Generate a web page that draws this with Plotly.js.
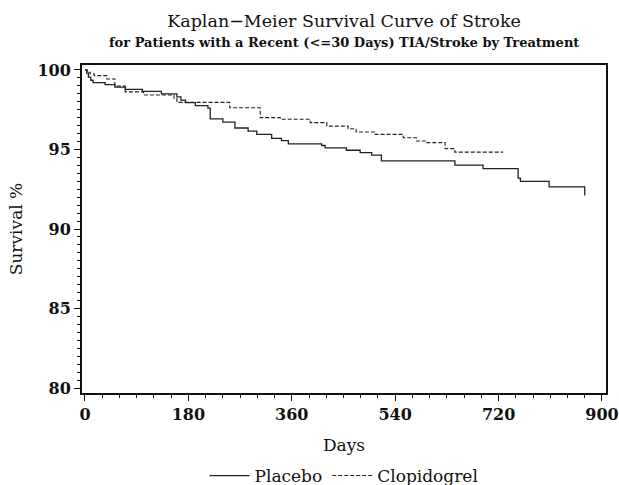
<!DOCTYPE html>
<html>
<head>
<meta charset="utf-8">
<script src="https://cdn.plot.ly/plotly-3.0.1.min.js"></script>
<style>html,body{margin:0;padding:0;background:#fff;}#chart{width:619px;height:485px;}</style>
</head>
<body>
<div id="chart"></div>
<script>
// Kaplan-Meier step data (day of change, survival % after the change)
const placeboDays = [0, 3, 6, 10, 14, 35, 52, 70, 100, 133, 160, 167, 175, 192, 214, 218, 240, 261, 284, 299, 325, 342, 354, 412, 418, 455, 479, 499, 516, 644, 693, 754, 758, 808, 870, 871];
const placeboSurv = [100, 99.8, 99.55, 99.35, 99.2, 99.07, 98.92, 98.78, 98.65, 98.5, 98.3, 98.1, 97.95, 97.75, 97.6, 96.92, 96.72, 96.35, 96.15, 95.95, 95.7, 95.55, 95.35, 95.25, 95.1, 94.95, 94.8, 94.65, 94.28, 94.02, 93.8, 93.2, 93.0, 92.65, 92.15, 92.15];
const clopDays = [0, 4, 9, 16, 38, 52, 70, 102, 155, 160, 252, 305, 340, 392, 421, 458, 472, 505, 554, 577, 595, 627, 644, 728];
const clopSurv = [100, 99.85, 99.75, 99.64, 99.43, 98.98, 98.62, 98.42, 98.2, 97.96, 97.62, 97.0, 96.9, 96.69, 96.47, 96.3, 96.1, 95.95, 95.74, 95.53, 95.43, 95.05, 94.83, 94.83];
const seriesNames = ["Placebo", "Clopidogrel"];
const xTicks = [0, 180, 360, 540, 720, 900];
const yTicks = [80, 85, 90, 95, 100];
const titleText = "Kaplan\u2212Meier Survival Curve of Stroke";
const subtitleText = "for Patients with a Recent (&lt;=30 Days) TIA/Stroke by Treatment";

const FONT = "DejaVu Serif";
const traces = [
  {x: placeboDays, y: placeboSurv, name: seriesNames[0], type: "scatter", mode: "lines",
   line: {shape: "hv", color: "#222", width: 1.3, dash: "solid"}},
  {x: clopDays, y: clopSurv, name: seriesNames[1], type: "scatter", mode: "lines",
   line: {shape: "hv", color: "#222", width: 1.1, dash: "4px,2px"}}
];
const layout = {
  width: 619, height: 485,
  margin: {l: 82, r: 13, t: 65, b: 92, autoexpand: false},
  paper_bgcolor: "#fff", plot_bgcolor: "#fff",
  font: {family: FONT, color: "#111"},
  title: {
    text: titleText,
    font: {family: FONT, size: 17.5, color: "#111"},
    x: 0.5, xref: "paper", xanchor: "center",
    y: 21, yref: "container", yanchor: "middle"
  },
  annotations: [{
    text: "<b>" + subtitleText + "</b>", showarrow: false,
    xref: "paper", yref: "paper", x: 0.5, y: (393 - 42) / 328,
    xanchor: "center", yanchor: "middle",
    font: {family: FONT, size: 13, color: "#111"}
  }],
  xaxis: {
    range: [-5.2, 907], tickvals: xTicks, ticktext: xTicks.map(String),
    showline: true, mirror: true, linecolor: "#111", linewidth: 2,
    ticks: "outside", ticklen: 6, tickwidth: 1, tickcolor: "#111",
    minor: {dtick: 30, tick0: 0, ticks: "outside", ticklen: 3, tickcolor: "#111", showgrid: false},
    showgrid: false, zeroline: false,
    tickfont: {family: FONT, size: 16, color: "#111", weight: "bold"},
    title: {text: "Days", font: {family: FONT, size: 17, color: "#111"}, standoff: 16}
  },
  yaxis: {
    range: [79.69, 100.31], tickvals: yTicks, ticktext: yTicks.map(String),
    showline: true, mirror: true, linecolor: "#111", linewidth: 2,
    ticks: "outside", ticklen: 6, tickwidth: 1, tickcolor: "#111",
    minor: {dtick: 0.5, tick0: 80, ticks: "outside", ticklen: 3, tickcolor: "#111", showgrid: false},
    showgrid: false, zeroline: false,
    tickfont: {family: FONT, size: 16, color: "#111", weight: "bold"},
    title: {text: "Survival %", font: {family: FONT, size: 17, color: "#111"}, standoff: 10}
  },
  showlegend: true,
  legend: {orientation: "h", x: 0.5, xanchor: "center", y: -0.253, yanchor: "middle",
           font: {family: FONT, size: 17, color: "#111"}, itemwidth: 40, tracegroupgap: 0}
};
layout.title.y = 1 - 21 / 485;
Plotly.newPlot("chart", traces, layout, {staticPlot: true, displayModeBar: false});
</script>
</body>
</html>
